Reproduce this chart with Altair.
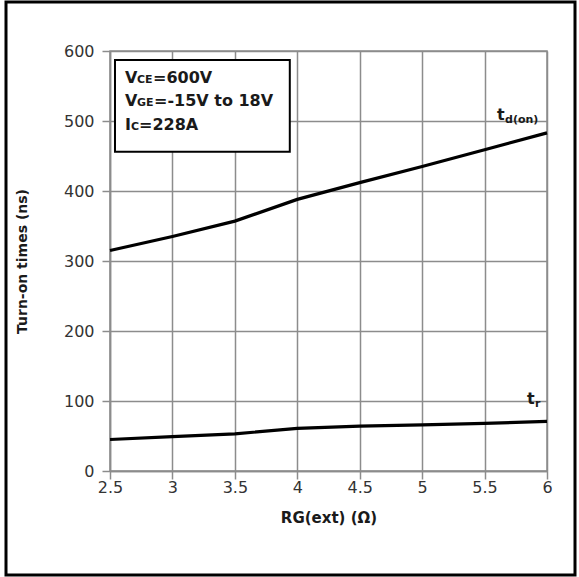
import altair as alt
import pandas as pd

rg = [2.5, 3.0, 3.5, 4.0, 4.5, 5.0, 5.5, 6.0]
td_on = [315, 335, 357, 388, 412, 435, 459, 483]
t_r = [45, 49, 53, 61, 64, 66, 68, 71]

x_ticks = [2.5, 3, 3.5, 4, 4.5, 5, 5.5, 6]
y_ticks = [0, 100, 200, 300, 400, 500, 600]

box_x = [2.54]
box_x2 = [3.94]
box_y = [587]
box_y2 = [456]

FONT = "DejaVu Sans"

df = pd.DataFrame({
    "rg": rg * 2,
    "t": td_on + t_r,
    "series": ["td(on)"] * len(rg) + ["tr"] * len(rg),
})

W, H = 437, 420

xscale = alt.Scale(domain=[2.5, 6], nice=False, zero=False)
yscale = alt.Scale(domain=[0, 600], nice=False)

lines = alt.Chart(df).mark_line(color="black", strokeWidth=3.2).encode(
    x=alt.X("rg:Q", scale=xscale,
            axis=alt.Axis(values=x_ticks, title="RG(ext) (Ω)", labelFlush=False,
                          format="~g", titlePadding=15, labelPadding=0,
                          titleFontSize=15)),
    y=alt.Y("t:Q", scale=yscale,
            axis=alt.Axis(values=y_ticks, title="Turn-on times (ns)", titlePadding=34,
                          labelPadding=8, titleFontSize=14)),
    detail="series:N",
)

box = alt.Chart(pd.DataFrame({"x": box_x, "x2": box_x2, "y": box_y, "y2": box_y2})).mark_rect(
    fill="white", stroke="black", strokeWidth=2
).encode(x=alt.X("x:Q", scale=xscale), x2="x2:Q", y=alt.Y("y:Q", scale=yscale), y2="y2:Q")


def txt(x, y, text, size, dx=0, dy=0, bold=True):
    return alt.Chart(pd.DataFrame({"x": [x], "y": [y], "text": [text]})).mark_text(
        align="left", baseline="alphabetic", font=FONT, fontSize=size,
        fontWeight="bold" if bold else "normal", color="#1a1a1a", dx=dx, dy=dy
    ).encode(x=alt.X("x:Q", scale=xscale), y=alt.Y("y:Q", scale=yscale), text="text:N")


ann = [
    txt(2.62, 555, "V", 16),
    txt(2.62, 555, "CE", 11, dx=12),
    txt(2.62, 555, "=600V", 16, dx=28),
    txt(2.62, 521, "V", 16),
    txt(2.62, 521, "GE", 11, dx=12),
    txt(2.62, 521, "=-15V to 18V", 16, dx=29),
    txt(2.62, 487, "I", 16),
    txt(2.62, 487, "C", 11, dx=6),
    txt(2.62, 487, "=228A", 16, dx=14),
    txt(5.6, 501, "t", 16),
    txt(5.6, 501, "d(on)", 11, dx=8, dy=3),
    txt(5.84, 96, "t", 16),
    txt(5.84, 96, "r", 11, dx=8, dy=3),
]

frame = alt.Chart(pd.DataFrame({"a": [0]})).mark_rect(
    fill=None, stroke="black", strokeWidth=3
).encode(x=alt.value(-104), x2=alt.value(465), y=alt.value(-49), y2=alt.value(524))

chart = alt.layer(frame, lines, box, *ann).properties(
    width=W, height=H,
    padding={"left": 110, "top": 51, "right": 32, "bottom": 106},
    autosize=alt.AutoSizeParams(type="none"),
    background="white",
).configure_view(stroke="#8c8c8c", strokeWidth=1.5).configure_axis(
    grid=True, gridColor="#8c8c8c", gridWidth=1.5,
    domainColor="#8c8c8c", domainWidth=1.5,
    tickColor="#8c8c8c", tickWidth=1.5, tickSize=8,
    labelFont=FONT, labelFontSize=16, labelColor="#333333",
    titleFont=FONT, titleColor="#1a1a1a", titleFontWeight="bold",
)

chart.save("out.html", embed_options={"renderer": "svg", "actions": False})
